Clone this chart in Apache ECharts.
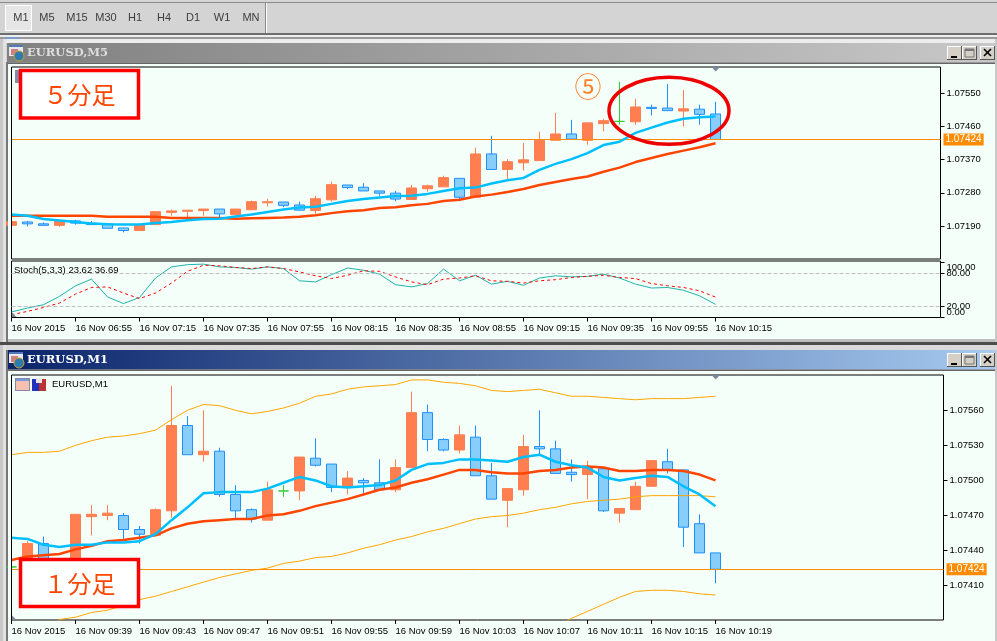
<!DOCTYPE html>
<html><head><meta charset="utf-8">
<style>html,body{margin:0;padding:0;background:#d4d4d4;overflow:hidden}#c{width:997px;height:641px}</style>
<script src="https://cdn.jsdelivr.net/npm/echarts@6/dist/echarts.min.js"></script>
</head><body><div id="c"></div>
<script>
// ---------- M5 panel ----------
const m5Ticks = ['16 Nov 2015','16 Nov 06:55','16 Nov 07:15','16 Nov 07:35','16 Nov 07:55','16 Nov 08:15','16 Nov 08:35','16 Nov 08:55','16 Nov 09:15','16 Nov 09:35','16 Nov 09:55','16 Nov 10:15'];
const m5Open = [1.07192,1.07201,1.07196,1.07192,1.07204,1.07198,1.07196,1.07185,1.07178,1.07194,1.07227,1.07230,1.07232,1.07236,1.07221,1.07234,1.07253,1.07255,1.07247,1.07232,1.07261,1.07301,1.07295,1.07285,1.07279,1.07262,1.07291,1.07296,1.07319,1.07268,1.07385,1.07343,1.07361,1.07367,1.07422,1.07439,1.07422,1.07467,1.07473,1.07472,1.07511,1.07509,1.07501,1.07506,1.07493];
const m5Close = [1.07202,1.07196,1.07192,1.07205,1.07198,1.07194,1.07184,1.07178,1.07194,1.07229,1.07231,1.07233,1.07236,1.07223,1.07236,1.07256,1.07256,1.07246,1.07233,1.07264,1.07302,1.07294,1.07285,1.07279,1.07263,1.07293,1.07299,1.07321,1.07268,1.07385,1.07343,1.07364,1.07369,1.07422,1.07439,1.07425,1.07469,1.07475,1.07473,1.07512,1.07508,1.07502,1.07507,1.07492,1.07424];
const m5Low = [1.07192,1.07189,1.07192,1.07188,1.07194,1.07193,1.07184,1.07173,1.07178,1.07194,1.07218,1.07213,1.07218,1.07213,1.07221,1.07234,1.07243,1.07241,1.07232,1.07223,1.07256,1.07290,1.07285,1.07272,1.07257,1.07262,1.07283,1.07296,1.07257,1.07268,1.07343,1.07315,1.07340,1.07367,1.07422,1.07425,1.07410,1.07446,1.07464,1.07464,1.07489,1.07502,1.07459,1.07464,1.07424];
const m5High = [1.07202,1.07204,1.07200,1.07205,1.07207,1.07204,1.07196,1.07185,1.07198,1.07229,1.07234,1.07233,1.07236,1.07236,1.07236,1.07259,1.07264,1.07255,1.07256,1.07272,1.07310,1.07301,1.07306,1.07285,1.07285,1.07301,1.07302,1.07326,1.07319,1.07402,1.07434,1.07371,1.07415,1.07445,1.07496,1.07477,1.07469,1.07480,1.07580,1.07534,1.07518,1.07574,1.07558,1.07518,1.07526];
const m5Fast = [1.07221,1.07218,1.07209,1.07205,1.07201,1.07197,1.07195,1.07194,1.07194,1.07198,1.07201,1.07206,1.07209,1.07210,1.07216,1.07221,1.07228,1.07235,1.07240,1.07242,1.07250,1.07258,1.07263,1.07267,1.07271,1.07272,1.07277,1.07285,1.07292,1.07294,1.07305,1.07314,1.07320,1.07342,1.07358,1.07371,1.07387,1.07409,1.07418,1.07442,1.07456,1.07470,1.07480,1.07484,1.07486];
const m5Slow = [1.07218,1.07218,1.07218,1.07218,1.07218,1.07218,1.07215,1.07215,1.07215,1.07215,1.07212,1.07212,1.07212,1.07212,1.07210,1.07211,1.07212,1.07213,1.07215,1.07219,1.07225,1.07230,1.07233,1.07239,1.07241,1.07246,1.07250,1.07258,1.07261,1.07270,1.07275,1.07282,1.07290,1.07301,1.07309,1.07317,1.07324,1.07337,1.07348,1.07363,1.07374,1.07385,1.07394,1.07403,1.07414];
const m5PriceTicks = [1.0719,1.0728,1.0737,1.0746,1.0755];
const lastPrice = 1.07424;
// ---------- Stochastic ----------
const stochMain = [10,17,23,38,57,69,37,25,36,71,91,95,96,91,90,87,91,88,66,64,77,89,85,78,59,55,61,87,66,76,60,65,58,71,75,73,74,78,71,60,53,54,49,39,23.62];
const stochSignal = [5,11,18,26,42,54,55,44,34,44,62,83,94,93,90,88,91,88,82,75,70,76,84,83,73,64,59,69,71,75,66,65,62,66,68,72,74,76,72,70,61,57,54,48,36.69];
const stochOuterTicks = [0,100];
const stochInnerTicks = [20,80];
// ---------- M1 panel ----------
const m1Ticks = ['16 Nov 2015','16 Nov 09:39','16 Nov 09:43','16 Nov 09:47','16 Nov 09:51','16 Nov 09:55','16 Nov 09:59','16 Nov 10:03','16 Nov 10:07','16 Nov 10:11','16 Nov 10:15','16 Nov 10:19'];
const m1Open = [1.07426,1.07423,1.07446,1.07420,1.07425,1.07469,1.07470,1.07470,1.07458,1.07453,1.07474,1.07547,1.07522,1.07525,1.07488,1.07475,1.07466,1.07491,1.07491,1.07519,1.07514,1.07494,1.07500,1.07498,1.07492,1.07511,1.07558,1.07535,1.07526,1.07537,1.07504,1.07483,1.07492,1.07529,1.07527,1.07507,1.07505,1.07510,1.07472,1.07475,1.07495,1.07516,1.07509,1.07463,1.07438];
const m1Close = [1.07426,1.07446,1.07430,1.07428,1.07471,1.07471,1.07472,1.07458,1.07454,1.07475,1.07547,1.07522,1.07525,1.07488,1.07474,1.07467,1.07492,1.07491,1.07520,1.07513,1.07494,1.07502,1.07498,1.07492,1.07511,1.07558,1.07535,1.07526,1.07539,1.07504,1.07484,1.07493,1.07529,1.07527,1.07506,1.07505,1.07512,1.07474,1.07476,1.07495,1.07517,1.07509,1.07460,1.07438,1.07424];
const m1Low = [1.07424,1.07423,1.07430,1.07420,1.07425,1.07453,1.07466,1.07450,1.07446,1.07453,1.07468,1.07522,1.07516,1.07486,1.07468,1.07464,1.07466,1.07486,1.07483,1.07512,1.07490,1.07488,1.07489,1.07492,1.07490,1.07511,1.07525,1.07525,1.07523,1.07504,1.07484,1.07460,1.07487,1.07522,1.07506,1.07499,1.07484,1.07473,1.07464,1.07475,1.07495,1.07506,1.07443,1.07438,1.07412];
const m1High = [1.07428,1.07448,1.07452,1.07428,1.07471,1.07479,1.07479,1.07472,1.07461,1.07476,1.07581,1.07555,1.07560,1.07528,1.07496,1.07476,1.07499,1.07496,1.07520,1.07536,1.07514,1.07508,1.07502,1.07518,1.07518,1.07576,1.07565,1.07536,1.07547,1.07547,1.07515,1.07493,1.07539,1.07560,1.07534,1.07518,1.07517,1.07510,1.07476,1.07499,1.07517,1.07527,1.07509,1.07471,1.07438];
const m1Fast = [1.07451,1.07450,1.07445,1.07443,1.07445,1.07445,1.07447,1.07447,1.07448,1.07454,1.07466,1.07477,1.07489,1.07490,1.07490,1.07490,1.07493,1.07498,1.07503,1.07500,1.07495,1.07494,1.07495,1.07496,1.07500,1.07509,1.07514,1.07515,1.07518,1.07518,1.07517,1.07516,1.07520,1.07522,1.07516,1.07513,1.07511,1.07503,1.07500,1.07502,1.07504,1.07503,1.07495,1.07488,1.07478];
const m1Slow = [1.07432,1.07435,1.07436,1.07437,1.07441,1.07444,1.07448,1.07449,1.07451,1.07453,1.07459,1.07463,1.07465,1.07466,1.07467,1.07467,1.07470,1.07471,1.07474,1.07478,1.07481,1.07484,1.07488,1.07492,1.07494,1.07498,1.07501,1.07505,1.07509,1.07509,1.07507,1.07506,1.07506,1.07508,1.07509,1.07511,1.07512,1.07511,1.07508,1.07508,1.07509,1.07509,1.07508,1.07505,1.07500];
const m1Upper = [1.07522,1.07524,1.07524,1.07525,1.07530,1.07534,1.07537,1.07538,1.07540,1.07543,1.07552,1.07560,1.07565,1.07564,1.07560,1.07557,1.07559,1.07562,1.07566,1.07572,1.07574,1.07578,1.07580,1.07581,1.07582,1.07586,1.07586,1.07584,1.07583,1.07581,1.07577,1.07576,1.07577,1.07578,1.07575,1.07572,1.07572,1.07571,1.07570,1.07569,1.07570,1.07570,1.07570,1.07571,1.07572];
const m1Mid = [1.07360,1.07365,1.07372,1.07381,1.07383,1.07387,1.07389,1.07393,1.07398,1.07401,1.07405,1.07409,1.07413,1.07417,1.07420,1.07423,1.07425,1.07429,1.07431,1.07434,1.07435,1.07438,1.07442,1.07445,1.07449,1.07452,1.07456,1.07459,1.07463,1.07467,1.07469,1.07470,1.07472,1.07475,1.07477,1.07480,1.07482,1.07483,1.07484,1.07486,1.07487,1.07487,1.07487,1.07487,1.07486];
const m1Lower = [null,null,null,null,null,null,null,null,null,null,null,null,null,null,null,null,null,null,null,null,null,null,null,null,null,null,null,null,null,null,null,null,null,null,1.07375,1.07382,1.07388,1.07394,1.07400,1.07405,1.07406,1.07406,1.07405,1.07403,1.07402];
const m1PriceTicks = [1.0741,1.0744,1.0747,1.075,1.0753,1.0756];

const tickIdx = m5Ticks.map((_, i) => i * 4);
const zip = (o, c, l, h) => o.map((v, i) => [i, v, c[i], l[i], h[i]]);
const pts = a => a.map((v, i) => [i, v]);
const FONT = '"Liberation Sans", Arial, sans-serif';
const BG = '#F5FFFA';

function line(name, data, x, color, width, extra) {
  return Object.assign({ type: 'line', name, xAxisIndex: x, yAxisIndex: x, data: pts(data), showSymbol: false, symbol: 'none',
    lineStyle: { color, width }, z: 4, silent: true, animation: false, connectNulls: false }, extra || {});
}
function candles(name, x, data) {
  return { type: 'candlestick', name, xAxisIndex: x, yAxisIndex: x, data, barWidth: 11, z: 3, silent: true, animation: false,
    itemStyle: { color: '#FF7F50', color0: '#87CEFA', borderColor: '#FF7F50', borderColor0: '#1E90FF', borderColorDoji: '#32CD32', borderWidth: 1 },
    markLine: { silent: true, symbol: 'none', animation: false, precision: 5,
      lineStyle: { color: '#FF8C00', width: 1, type: 'solid' },
      label: { show: true, position: 'end', distance: 3, formatter: () => lastPrice.toFixed(5), color: '#fff', backgroundColor: '#FF8C00', padding: [1, 2, 1, 2], fontFamily: FONT, fontSize: 10 },
      data: [{ yAxis: lastPrice }] } };
}
function xAx(grid, max, labels) {
  return { type: 'value', gridIndex: grid, min: 0, max, splitLine: { show: false }, axisLine: { show: false, onZero: false },
    axisTick: labels ? { show: true, length: 4, lineStyle: { color: '#000' }, customValues: tickIdx } : { show: false },
    axisLabel: labels ? { show: true, customValues: tickIdx, align: 'left', margin: 6, color: '#000', fontFamily: FONT, fontSize: 9.5, formatter: v => labels[v / 4] } : { show: false } };
}
function yAx(grid, min, max, ticks, fmt, margin, extra) {
  return { type: 'value', gridIndex: grid, position: 'right', min, max, splitLine: { show: false }, axisLine: { show: false, onZero: false },
    axisTick: { show: true, length: 4, lineStyle: { color: '#000' }, customValues: ticks },
    axisLabel: Object.assign({ show: true, customValues: ticks, margin, color: '#000', fontFamily: FONT, fontSize: 9.5, formatter: fmt, showMinLabel: true, showMaxLabel: true }, extra || {}) };
}
const R = (x, y, w, h, fill, z) => ({ type: 'rect', shape: { x, y, width: w, height: h }, style: { fill }, z: z === undefined ? -5 : z, silent: true });
const T = (x, y, text, font, fill, z, align) => ({ type: 'text', x, y, style: { text, font, fill, textAlign: align || 'left', textVerticalAlign: 'middle' }, z: z === undefined ? 6 : z, silent: true });
const grad = (a, b) => ({ type: 'linear', x: 0, y: 0, x2: 1, y2: 0, colorStops: [{ offset: 0, color: a }, { offset: 1, color: b }] });
const tri = (pts, fill, z) => ({ type: 'polygon', shape: { points: pts }, style: { fill }, z: z || 8, silent: true });
const box = (x, y, w, h, txt) => [
  { type: 'rect', shape: { x, y, width: w, height: h }, style: { fill: '#fff', stroke: '#FF0000', lineWidth: 3.5 }, z: 20, silent: true },
  T(x + w / 2, y + h / 2 + 1, txt, '24px "Noto Sans CJK JP"', '#FF4500', 21, 'center')
];
function winBtn(x, y, kind) {
  const a = [R(x, y, 15, 14, '#D4D0C8', -1), R(x, y, 15, 1, '#fff', -1), R(x, y, 1, 14, '#fff', -1), R(x, y + 13, 15, 1, '#555', -1), R(x + 14, y, 1, 14, '#555', -1)];
  if (kind === 'min') a.push(R(x + 4, y + 10, 6, 2, '#000', 0));
  if (kind === 'max') { a.push({ type: 'rect', shape: { x: x + 3, y: y + 3, width: 9, height: 8 }, style: { fill: 'none', stroke: '#777', lineWidth: 1 }, z: 0, silent: true }); a.push(R(x + 3, y + 3, 9, 2, '#777', 0)); }
  if (kind === 'close') { [[4, 3, 11, 10], [11, 3, 4, 10]].forEach(p => a.push({ type: 'line', shape: { x1: x + p[0], y1: y + p[1], x2: x + p[2], y2: y + p[3] }, style: { stroke: '#000', lineWidth: 1.6 }, z: 0, silent: true })); }
  return a;
}
function titleIcon(x, y) {
  return [R(x, y, 14, 11, '#E8E8F0', 0), R(x, y, 14, 2, '#5577BB', 0), R(x + 2, y + 4, 7, 6, '#D08080', 0),
    { type: 'circle', shape: { cx: x + 10, cy: y + 11, r: 5 }, style: { fill: '#2E7BB0', stroke: '#C9A227', lineWidth: 1 }, z: 0, silent: true }];
}
const tfLabels = [['M1', 21], ['M5', 47], ['M15', 77], ['M30', 106], ['H1', 135], ['H4', 164], ['D1', 193], ['W1', 222], ['MN', 251]];

const graphics = [].concat(
  // desktop and toolbar
  [R(0, 0, 997, 641, '#D4D4D4', -10), R(0, 2, 997, 1, '#8C8C8C'), R(0, 33, 997, 2, '#6E6E6E'), R(0, 35, 997, 2, '#EDEDED'), R(0, 37, 997, 2, '#9A9A9A'),
   R(265, 3, 1, 30, '#8C8C8C'), R(266, 3, 1, 30, '#fff'), R(5, 5, 27, 26, '#fff'), R(6, 6, 25, 24, '#E6E6E6'), R(5, 37, 15, 2, '#7A9CC6')],
  tfLabels.map(t => T(t[1], 18, t[0], '11px ' + FONT, '#3C3C3C', 1, 'center')),
  // M5 window
  [R(3, 39, 994, 4, '#EDEDED'), R(7, 43, 990, 19.5, grad('#808080', '#C8C8C8')), R(6, 62.5, 991, 1.5, '#666'), R(8, 64, 989, 274, BG), R(0, 338, 997, 1, '#fff'), R(0, 339, 997, 3, '#BDBDBD'), R(0, 342, 997, 3, '#4C4C4C'), R(0, 345, 997, 5, '#DADADA')],
  [R(0, 39, 3, 303, '#C8C8C8'), R(3, 39, 3, 303, '#E2E2E2'), R(6, 62, 2, 280, '#777'), R(995, 39, 2, 303, '#C8C8C8')],
  titleIcon(9, 45),
  [T(27, 53.5, 'EURUSD,M5', 'bold 11.5px "DejaVu Serif"', '#DDDDDD', 1)],
  winBtn(947, 46, 'min'), winBtn(962, 46, 'max'), winBtn(980, 46, 'close'),
  // M1 window
  [R(7, 350, 990, 19.5, grad('#0A246A', '#A6CAF0')), R(6, 369.5, 991, 1.5, '#666'), R(8, 371, 989, 270, BG), R(0, 345, 3, 296, '#C8C8C8'), R(3, 345, 3, 296, '#E2E2E2'), R(6, 350, 2, 291, '#777'), R(995, 350, 2, 291, '#C8C8C8')],
  titleIcon(9, 352),
  [T(27, 360.5, 'EURUSD,M1', 'bold 11.5px "DejaVu Serif"', '#FFFFFF', 1)],
  winBtn(947, 353, 'min'), winBtn(962, 353, 'max'), winBtn(980, 353, 'close'),
  // covers the part of the first candle left of each plot, then restores the frame line
  [R(8, 67, 3, 192, BG, 6), R(8, 375, 3, 245, BG, 6), R(11, 67, 1, 192, '#000', 7), R(11, 375, 1, 245, '#000', 7)],
  // panel captions and icons
  [T(14, 270.5, 'Stoch(5,3,3) 23.62 36.69', '9.5px ' + FONT, '#000', 9),
   T(52, 384.5, 'EURUSD,M1', '9.5px ' + FONT, '#000', 9),
   R(15, 378, 15, 13, '#8888AA', 8), R(16, 379, 13, 11, '#F6C0B0', 8), R(16, 379, 13, 2, '#7799DD', 8),
   R(32, 379, 7, 12, '#2233BB', 8), R(39, 379, 7, 12, '#BB3333', 8), R(36, 378, 6, 5, '#E8E8E8', 8),
   R(15, 70, 7, 13, '#8888AA', 8),
   tri([[711.5, 67], [720, 67], [715.7, 71.5]], '#778899'), tri([[711.5, 375], [720, 375], [715.7, 379.5]], '#778899'),
   tri([[12, 317], [12, 312.5], [16.5, 317]], '#778899'), tri([[12, 620], [12, 615.5], [16.5, 620]], '#778899')],
  // hand annotations
  box(20.5, 70.5, 118, 47.5, '５分足'), box(20.5, 559.5, 118, 47, '１分足'),
  [T(588, 87, '⑤', '27px "Noto Sans CJK JP"', '#FF7F27', 21, 'center'),
   { type: 'ellipse', shape: { cx: 669, cy: 110.8, rx: 60, ry: 33.5 }, style: { fill: 'none', stroke: '#EE0000', lineWidth: 3.5 }, z: 20, silent: true }]
);

const frame = (left, top, width, height) => ({ left, top, width, height, show: true, backgroundColor: BG, borderColor: '#000', borderWidth: 1 });
const priceFmt = v => v.toFixed(5);
const stochFmt = v => v.toFixed(2);
const chart = echarts.init(document.getElementById('c'), null, { renderer: 'canvas', width: 997, height: 641 });
chart.setOption({
  animation: false,
  backgroundColor: '#D4D4D4',
  tooltip: { show: false },
  graphic: { elements: graphics },
  grid: [frame(11.5, 67, 929, 192), frame(11.5, 261, 929, 56.5), frame(11.5, 375, 932, 245)],
  xAxis: [xAx(0, 58.06, null), xAx(1, 58.06, m5Ticks), xAx(2, 58.25, m1Ticks)],
  yAxis: [
    yAx(0, 1.07101, 1.0762, m5PriceTicks, priceFmt, 6),
    yAx(1, 0, 101.6, stochOuterTicks, stochFmt, 6, { verticalAlignMinLabel: 'bottom', verticalAlignMaxLabel: 'top' }),
    yAx(2, 1.073806, 1.075902, m1PriceTicks, priceFmt, 6),
    yAx(1, 0, 101.6, stochInnerTicks, stochFmt, 6)
  ],
  series: [
    candles('EURUSD M5', 0, zip(m5Open, m5Close, m5Low, m5High)),
    line('M5 slow MA', m5Slow, 0, '#FF4500', 2.5),
    line('M5 fast MA', m5Fast, 0, '#00BFFF', 2.5, { z: 5 }),
    line('Stoch main', stochMain, 1, '#20B2AA', 1, {
      markLine: { silent: true, symbol: 'none', animation: false, label: { show: false }, lineStyle: { color: '#C0C0C0', type: 'dashed', width: 1 }, data: [{ yAxis: 80 }, { yAxis: 20 }] } }),
    line('Stoch signal', stochSignal, 1, '#FF0000', 1, { lineStyle: { color: '#FF0000', width: 1, type: [3, 3] } }),
    candles('EURUSD M1', 2, zip(m1Open, m1Close, m1Low, m1High)),
    line('M1 upper', m1Upper, 2, '#FFA500', 1),
    line('M1 mid', m1Mid, 2, '#FFA500', 1),
    line('M1 lower', m1Lower, 2, '#FFA500', 1),
    line('M1 slow MA', m1Slow, 2, '#FF4500', 2.5),
    line('M1 fast MA', m1Fast, 2, '#00BFFF', 2.5, { z: 5 })
  ]
});
</script></body></html>
